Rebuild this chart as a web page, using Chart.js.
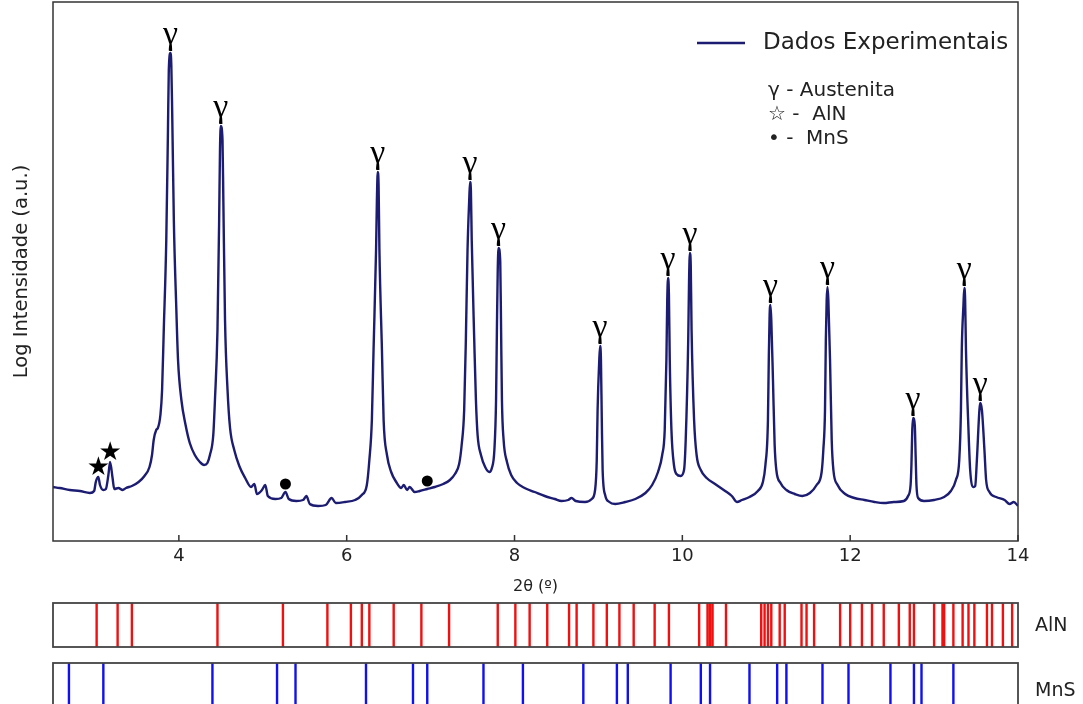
<!DOCTYPE html>
<html>
<head>
<meta charset="utf-8">
<script src="https://cdn.jsdelivr.net/npm/chart.js@4.4.1/dist/chart.umd.min.js"></script>
<style>
  html, body { margin: 0; padding: 0; background: #fff; }
  #wrap { position: relative; width: 1083px; height: 704px; overflow: hidden; }
  #wrap canvas { position: absolute; left: 0; }
  #main { top: 0; }
  #aln { top: 595px; }
  #mns { top: 655px; }
</style>
</head>
<body>
<div id="wrap">
  <canvas id="main" width="1083" height="600"></canvas>
  <canvas id="aln" width="1083" height="60"></canvas>
  <canvas id="mns" width="1083" height="60"></canvas>
</div>
<script>
// spectrum, grouped by peak region
const twoTheta = [
  2.50,2.58,2.70,2.82,2.94,2.99,3.01,3.04,3.06,3.10,3.13,3.16,3.18,3.21,3.23,3.28,3.33,3.37,3.44,3.52,3.59,3.65,3.68,3.70,3.73,3.75,3.78,3.80,3.82,3.85,3.87,3.88,3.90,
  3.91,3.92,3.94,3.97,3.99,4.03,4.08,4.13,4.19,4.25,4.30,4.34,4.37,4.41,4.43,4.46,4.48,4.49,4.50,
  4.52,4.53,4.55,4.58,4.61,4.66,4.72,4.79,4.86,4.90,4.93,4.99,5.03,5.06,5.15,5.22,5.27,5.31,5.40,5.48,5.52,5.56,5.66,5.75,5.82,5.87,5.98,6.10,6.18,6.24,6.27,6.30,6.32,6.35,6.36,6.37,
  6.38,6.39,6.42,6.44,6.48,6.53,6.59,6.65,6.68,6.72,6.75,6.81,6.87,6.96,7.05,7.15,7.23,7.29,7.34,7.37,7.40,7.42,7.44,7.46,7.47,
  7.48,7.49,7.52,7.54,7.56,7.60,7.65,7.70,7.73,7.76,7.78,7.79,7.80,7.81,7.83,7.84,7.85,7.87,7.91,7.96,8.03,8.12,8.24,8.36,8.48,8.56,8.64,8.68,8.73,8.84,8.92,8.96,8.98,8.99,9.01,9.02,
  9.03,9.04,9.05,9.08,9.13,9.20,9.32,9.44,9.56,9.64,9.71,9.76,9.79,9.81,9.82,9.83,9.84,9.85,9.87,9.90,9.93,9.98,10.02,10.04,10.07,10.08,10.09,
  10.10,10.11,10.14,10.17,10.22,10.29,10.39,10.51,10.59,10.65,10.71,10.80,10.90,10.96,10.99,11.02,11.03,11.04,11.05,11.06,11.08,11.10,11.12,11.17,11.24,11.34,11.43,11.52,11.60,11.66,11.68,11.70,11.71,11.72,11.73,
  11.74,11.76,11.78,11.80,11.85,11.94,12.05,12.17,12.29,12.40,12.52,12.64,12.69,12.72,12.73,12.74,12.75,12.77,12.78,12.79,12.81,12.88,13.00,13.12,13.20,13.26,13.30,13.32,13.33,13.35,13.36,13.37,13.38,13.41,13.43,13.47,13.49,13.51,13.54,13.55,13.57,13.60,13.62,13.66,13.74,13.84,13.90,13.95,14.00
];
const logInt = [
  0.54,0.53,0.51,0.50,0.48,0.50,0.59,0.64,0.56,0.51,0.52,0.66,0.79,0.63,0.52,0.53,0.51,0.53,0.55,0.59,0.65,0.74,0.86,1.01,1.11,1.13,1.26,1.51,2.11,3.01,4.11,4.71,4.88,
  4.76,4.31,3.21,2.31,1.81,1.41,1.16,0.98,0.86,0.79,0.76,0.78,0.86,1.06,1.41,2.11,3.21,3.91,4.15,
  4.01,3.41,2.21,1.51,1.13,0.91,0.75,0.63,0.54,0.57,0.47,0.51,0.56,0.45,0.42,0.43,0.49,0.42,0.40,0.41,0.45,0.37,0.35,0.36,0.43,0.38,0.39,0.41,0.46,0.56,0.81,1.21,1.91,2.91,3.41,3.69,
  3.56,2.91,1.91,1.21,0.86,0.69,0.59,0.53,0.56,0.51,0.54,0.49,0.50,0.52,0.54,0.57,0.61,0.67,0.77,0.96,1.31,2.01,2.91,3.41,3.59,
  3.51,3.01,2.01,1.41,1.06,0.86,0.74,0.69,0.73,0.91,1.41,2.11,2.71,2.93,2.79,2.11,1.41,1.01,0.79,0.66,0.58,0.53,0.49,0.45,0.42,0.40,0.41,0.43,0.40,0.39,0.42,0.51,0.81,1.31,1.81,1.95,
  1.81,1.21,0.71,0.46,0.39,0.37,0.39,0.42,0.48,0.56,0.69,0.86,1.11,1.81,2.41,2.63,2.46,1.81,1.11,0.76,0.67,0.65,0.71,1.01,2.01,2.61,2.88,
  2.76,2.11,1.21,0.86,0.71,0.63,0.57,0.50,0.45,0.39,0.41,0.44,0.50,0.59,0.76,1.21,1.81,2.26,2.36,2.21,1.61,0.96,0.71,0.58,0.51,0.47,0.45,0.48,0.56,0.69,0.91,1.31,2.01,2.41,2.54,
  2.41,1.81,1.01,0.71,0.56,0.47,0.43,0.41,0.39,0.38,0.39,0.40,0.45,0.56,0.76,1.11,1.23,1.16,0.86,0.56,0.43,0.40,0.41,0.44,0.50,0.61,0.81,1.31,1.91,2.36,2.53,2.41,1.91,1.11,0.71,0.54,0.55,0.81,1.31,1.38,1.31,0.91,0.61,0.49,0.44,0.41,0.37,0.39,0.35
];

// austenite peaks (γ)
const gammaX = [3.90, 4.50, 6.37, 7.47, 7.81, 9.02, 9.83, 10.09, 11.05, 11.73, 12.75, 13.36, 13.55];
const gammaY = [4.88, 4.15, 3.69, 3.59, 2.93, 1.95, 2.63, 2.88, 2.36, 2.54, 1.23, 2.53, 1.38];
// AlN peaks marked with stars, MnS peaks marked with dots
const alnMarkX = [3.04, 3.18];
const alnMarkY = [0.64, 0.79];
const mnsMarkX = [5.27, 6.96];
const mnsMarkY = [0.49, 0.52];

// reference line positions (2θ)
const alnLines = [3.02, 3.27, 3.44, 4.46, 5.24, 5.77, 6.05, 6.18, 6.27, 6.56, 6.89, 7.22, 7.80, 8.01, 8.18, 8.39, 8.65, 8.74, 8.94, 9.10, 9.25, 9.42, 9.67, 9.84, 10.20, 10.30, 10.33, 10.36, 10.52, 10.94, 10.98, 11.02, 11.06, 11.16, 11.22, 11.42, 11.48, 11.57, 11.88, 12.00, 12.14, 12.26, 12.40, 12.58, 12.71, 12.76, 13.00, 13.10, 13.12, 13.23, 13.34, 13.41, 13.48, 13.63, 13.69, 13.82, 13.93];
const mnsLines = [2.69, 3.10, 4.40, 5.17, 5.39, 6.23, 6.79, 6.96, 7.63, 8.10, 8.82, 9.22, 9.35, 9.86, 10.22, 10.33, 10.80, 11.13, 11.24, 11.67, 11.98, 12.48, 12.76, 12.85, 13.23];

const xTicks = [4, 6, 8, 10, 12, 14];

const navy = '#1c1c72';
const sans = '"DejaVu Sans", sans-serif';

// frame, inward ticks, peak labels and legend
const decor = {
  id: 'decor',
  afterDraw(chart) {
    const { ctx, chartArea: a, scales: { x, y } } = chart;
    ctx.save();
    ctx.strokeStyle = '#333';
    ctx.lineWidth = 1.5;
    ctx.strokeRect(a.left, a.top, a.right - a.left, a.bottom - a.top);
    ctx.beginPath();
    xTicks.forEach(v => {
      const px = x.getPixelForValue(v);
      ctx.moveTo(px, a.bottom);
      ctx.lineTo(px, a.bottom - 6);
    });
    ctx.stroke();

    ctx.fillStyle = '#000';
    ctx.textAlign = 'center';
    ctx.textBaseline = 'alphabetic';
    ctx.font = '34px "Liberation Serif", serif';
    gammaX.forEach((v, i) => {
      ctx.fillText('γ', x.getPixelForValue(v), y.getPixelForValue(gammaY[i]) - 9);
    });

    ctx.font = '26px ' + sans;
    ctx.textBaseline = 'middle';
    alnMarkX.forEach((v, i) => {
      ctx.fillText('★', x.getPixelForValue(v), y.getPixelForValue(alnMarkY[i]) - 9);
    });
    mnsMarkX.forEach((v, i) => {
      ctx.beginPath();
      ctx.arc(x.getPixelForValue(v), y.getPixelForValue(mnsMarkY[i]) - 8, 5.5, 0, Math.PI * 2);
      ctx.fill();
    });

    // legend
    ctx.strokeStyle = navy;
    ctx.lineWidth = 2.5;
    ctx.beginPath();
    ctx.moveTo(697, 43);
    ctx.lineTo(745, 43);
    ctx.stroke();
    ctx.fillStyle = '#222';
    ctx.textAlign = 'left';
    ctx.font = '23px ' + sans;
    ctx.fillText('Dados Experimentais', 763, 43);
    ctx.font = '20px ' + sans;
    ctx.fillText('γ - Austenita', 768, 91);
    ctx.fillText('☆ -  AlN', 768, 115);
    ctx.fillText('• -  MnS', 768, 139);
    ctx.restore();
  }
};

new Chart(document.getElementById('main'), {
  type: 'line',
  data: {
    datasets: [{
      label: 'Dados Experimentais',
      data: twoTheta.map((v, i) => ({ x: v, y: logInt[i] })),
      borderColor: navy,
      borderWidth: 2.4,
      pointRadius: 0,
      cubicInterpolationMode: 'monotone',
      fill: false
    }]
  },
  options: {
    responsive: false,
    animation: false,
    layout: { autoPadding: false, padding: { left: 0, top: 2, right: 65, bottom: 0 } },
    plugins: { legend: { display: false }, tooltip: { enabled: false } },
    scales: {
      x: {
        type: 'linear',
        min: 2.5,
        max: 14,
        afterBuildTicks: s => { s.ticks = xTicks.map(v => ({ value: v })); },
        afterFit: s => { s.height = 59; },
        grid: { display: false, drawTicks: false },
        border: { display: false },
        ticks: { color: '#222', font: { family: 'DejaVu Sans', size: 18 }, padding: 5 },
        title: { display: true, text: '2θ (º)', color: '#222', font: { family: 'DejaVu Sans', size: 16 }, padding: { top: 2, bottom: 4 } }
      },
      y: {
        min: 0,
        max: 5.39,
        afterFit: s => { s.width = 53; },
        grid: { display: false, drawTicks: false },
        border: { display: false },
        ticks: { display: false },
        title: { display: true, text: 'Log Intensidade (a.u.)', color: '#222', font: { family: 'DejaVu Sans', size: 19.5 }, padding: { top: 10, bottom: 0 } }
      }
    }
  },
  plugins: [decor]
});

function stripChart(id, lines, color, label, padTop, padBottom, labelY) {
  new Chart(document.getElementById(id), {
    type: 'line',
    data: {
      datasets: [{
        data: lines.flatMap(v => [{ x: v, y: 0 }, { x: v, y: 1 }, { x: v, y: null }]),
        borderColor: color,
        borderWidth: 2.4,
        pointRadius: 0,
        spanGaps: false
      }]
    },
    options: {
      responsive: false,
      animation: false,
      layout: { autoPadding: false, padding: { left: 53, right: 65, top: padTop, bottom: padBottom } },
      plugins: { legend: { display: false }, tooltip: { enabled: false } },
      scales: {
        x: { type: 'linear', min: 2.5, max: 14, display: false },
        y: { min: 0, max: 1, display: false }
      }
    },
    plugins: [{
      id: 'box',
      afterDraw(chart) {
        const { ctx, chartArea: a } = chart;
        ctx.save();
        ctx.strokeStyle = '#444';
        ctx.lineWidth = 1.8;
        ctx.strokeRect(a.left, a.top, a.right - a.left, a.bottom - a.top);
        ctx.fillStyle = '#222';
        ctx.font = '19px ' + sans;
        ctx.textBaseline = 'middle';
        ctx.fillText(label, 1035, labelY);
        ctx.restore();
      }
    }]
  });
}

stripChart('aln', alnLines, '#f01010', 'AlN', 8, 8, 31);
stripChart('mns', mnsLines, '#1010f0', 'MnS', 8, 0, 36);
</script>
</body>
</html>
